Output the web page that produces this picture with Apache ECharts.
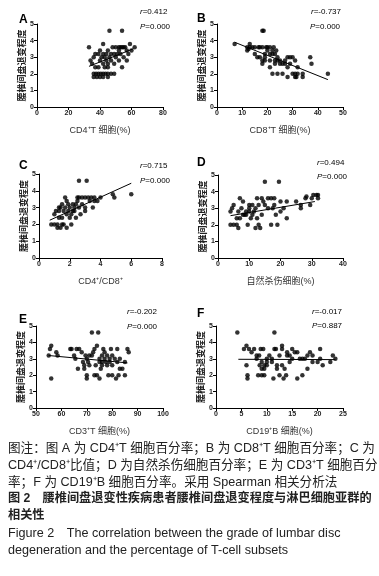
<!DOCTYPE html>
<html><head><meta charset="utf-8">
<script src="https://cdn.jsdelivr.net/npm/echarts@6/dist/echarts.min.js"></script>
<style>html,body{margin:0;padding:0;background:#fff}#c{width:379px;height:576px}</style>
</head><body><div id="c"></div>
<script>
// ---- Data ----
const yTickLabels = ['0','1','2','3','4','5'];
const xTicksA = [0,20,40,60,80];
const xTicksB = [0,10,20,30,40,50];
const xTicksC = [0,2,4,6,8];
const xTicksD = [0,10,20,30,40];
const xTicksE = [50,60,70,80,90,100];
const xTicksF = [0,5,10,15,20,25];

const pointsA = [[46,4.6],[54,4.6],[42,3.8],[59,3.8],[33,3.6],[48,3.6],[50,3.6],[52,3.6],[53,3.6],[54,3.6],[55,3.6],[56,3.6],[62,3.6],
[40,3.4],[45,3.4],[52,3.4],[57,3.4],[60,3.4],[37,3.2],[39,3.2],[42,3.2],[44,3.2],[47,3.2],[49,3.2],[51,3.2],[53,3.2],[58,3.2],
[36,3.0],[41,3.0],[43,3.0],[46,3.0],[50,3.0],[55,3.0],[34,2.8],[40,2.8],[44,2.8],[47,2.8],[52,2.8],[57,2.8],
[35,2.6],[42,2.6],[45,2.6],[49,2.6],[37,2.4],[39,2.4],[43,2.4],[45,2.4],[54,2.4],
[36,2.0],[37.5,2.0],[39,2.0],[40.5,2.0],[42,2.0],[43.5,2.0],[45,2.0],[47,2.0],[49,2.0],
[36,1.8],[38,1.8],[40,1.8],[42,1.8],[45,1.8]];
const fitA = [[33,2.45],[61,3.5]];

const pointsB = [[7,3.8],[12,3.4],[12,3.6],[12.5,3.5],[13,3.8],[13,3.6],[14,3.6],[15,3.6],[15,3.2],[16,3.0],[16.5,3.6],[17,3.6],[17,3.0],
[18,3.6],[18,4.6],[18.5,4.6],[18,2.8],[18,2.6],[19,3.2],[19,3.0],[19,2.8],[19.5,3.6],[20,3.6],[20,3.4],[21,3.6],[21,3.2],[21,2.8],[21,2.4],
[22,3.4],[22,3.2],[22,2.0],[22.5,3.6],[23,3.2],[23,2.8],[23,2.6],[23.5,3.4],[24,3.0],[24,2.8],[24,2.0],[25,2.8],[25,2.6],[26,2.6],[26,2.0],
[27,2.8],[27,2.6],[28,3.0],[28,2.4],[28,1.8],[29,3.0],[29,2.6],[30,3.0],[30,2.0],[31,2.8],[31,2.0],[31,1.8],[31.5,1.8],[32,2.4],[32,2.0],
[34,2.0],[34,1.8],[37,3.0],[37.5,2.6],[44,2.0]];
const fitB = [[7,3.9],[44,1.65]];

const pointsC = [[0.8,2.0],[1.0,2.6],[1.0,2.0],[1.1,2.8],[1.2,1.8],[1.2,2.0],[1.3,2.4],[1.3,2.8],[1.3,3.0],[1.4,3.0],[1.4,1.8],[1.5,2.0],[1.5,2.4],
[1.5,3.2],[1.6,2.8],[1.6,2.0],[1.7,3.6],[1.7,3.0],[1.8,1.8],[1.8,2.6],[1.8,3.4],[1.9,2.8],[1.9,3.2],[2.0,2.4],[2.0,3.0],[2.1,2.0],[2.1,2.6],
[2.2,3.2],[2.2,2.8],[2.3,3.0],[2.3,2.8],[2.4,2.4],[2.4,3.2],[2.5,3.6],[2.5,3.4],[2.6,4.6],[2.6,3.6],[2.6,3.0],[2.7,2.6],[2.8,3.2],[2.8,3.6],
[3.0,3.6],[3.0,3.0],[3.0,2.8],[3.1,4.6],[3.2,3.6],[3.3,3.4],[3.4,3.6],[3.5,3.0],[3.6,3.4],[3.6,3.6],[3.8,3.4],[4.0,3.6],[4.8,3.8],[4.9,3.6],[6.0,3.8]];
const fitC = [[0.7,2.25],[6.0,4.45]];

const pointsD = [[4,2.8],[4,2.0],[4.5,3.0],[5,3.2],[5,2.0],[6,2.0],[6,2.4],[6.5,1.8],[6.5,2.8],[7,3.6],[7,2.4],[7.5,3.0],[8,3.4],[8,2.6],[8.5,2.6],
[9,2.8],[9,2.6],[9.5,2.0],[10,3.0],[10,2.8],[10,3.2],[10.5,2.4],[11,3.2],[11,2.6],[11.5,2.8],[12,1.8],[12,3.0],[12.5,3.6],[12.5,2.4],[13,3.2],
[13,2.0],[13.5,1.8],[14,3.6],[14,2.6],[14.5,3.4],[15,4.6],[15,3.2],[16,3.6],[16,3.0],[17,3.6],[17,2.0],[17.5,3.0],[18,3.6],[18,3.2],[18.5,2.6],
[19,2.0],[19.5,4.6],[20,3.4],[20,2.8],[21,3.0],[22,2.4],[22,3.4],[25,3.4],[26.5,3.2],[26.5,3.0],[28,3.6],[28.3,3.7],[29.5,3.2],[30,3.6],[30.5,3.8],
[31.5,3.8],[32,3.6],[32,3.8]];
const fitD = [[4,2.55],[31,3.4]];

const pointsE = [[55,3.2],[55.5,3.6],[56,3.8],[56,1.8],[58,3.4],[58.5,3.2],[63.5,3.6],[64,3.6],[65,3.2],[65.5,3.0],[66,3.6],[66.5,2.4],[67,3.6],
[68,3.4],[68.5,2.8],[69,2.6],[69,2.4],[69.5,3.2],[70,3.0],[70,2.0],[70,1.8],[70.5,2.8],[71,2.6],[71,3.2],[72,4.6],[72,3.2],[72.5,3.4],[73,3.6],
[73,2.0],[73.5,2.6],[74,3.8],[74,2.0],[74.5,4.6],[75,3.0],[75,2.8],[75,1.8],[75.5,2.4],[76,3.2],[76,2.6],[76,2.8],[76.5,3.6],[77,3.4],[77,3.0],
[77.5,2.8],[78,3.2],[78,2.6],[78.5,2.0],[79,3.0],[79,2.8],[79.5,3.6],[80,3.2],[80,2.6],[80,2.0],[81,3.0],[81.5,1.8],[82,3.6],[82,2.8],[82.5,2.0],
[83,3.0],[83,2.4],[84,2.4],[85,2.0],[85,2.8],[86,3.6],[86.5,3.4]];
const fitE = [[55,3.2],[86,2.75]];

const pointsF = [[4.2,4.6],[5.5,3.6],[6,3.8],[6,2.6],[6.2,2.0],[6.2,1.8],[6.5,3.6],[7,3.4],[7.5,3.6],[8,3.2],[8,3.0],[8.3,2.0],[8.5,3.2],[8.6,2.6],
[8.8,3.6],[9,2.8],[9,2.4],[9,2.0],[9.3,3.6],[9.5,2.6],[9.5,2.4],[9.5,2.0],[10,3.0],[10,2.6],[10,2.8],[10.5,3.2],[11,2.8],[11,3.0],[11.3,1.8],
[11.5,4.6],[11.5,3.6],[11.8,3.6],[12,2.6],[12,2.4],[12.5,3.2],[12.5,2.0],[13,3.6],[13,3.8],[13,2.6],[13.3,1.8],[13.5,2.4],[13.8,2.0],[14,3.2],
[14,3.4],[14.5,2.8],[14.5,3.2],[15,3.6],[15,3.0],[15.5,3.4],[16,3.4],[16,1.8],[16.5,3.0],[17,2.0],[17,3.0],[17.5,3.0],[18,2.4],[18,3.2],[18.5,3.4],
[19,3.2],[19,2.8],[20,2.8],[20.5,3.6],[20.5,3.0],[21,2.6],[22.5,2.8],[23,3.2],[23.5,3.0]];
const fitF = [[4.4,2.97],[23.5,2.95]];

const panelLetters = ['A','B','C','D','E','F'];
const rValues = ['0.412','-0.737','0.715','0.494','-0.202','-0.017'];
const pValues = ['0.000','0.000','0.000','0.000','0.000','0.887'];
const xNames = ['CD4⁺T 细胞(%)','CD8⁺T 细胞(%)','CD4⁺/CD8⁺','自然杀伤细胞(%)','CD3⁺T 细胞(%)','CD19⁺B 细胞(%)'];
const yName = '腰椎间盘退变程度';

// ---- Layout ----
const grids = [
  {left:37, top:24, width:126, height:83},
  {left:217, top:24, width:126, height:83},
  {left:39, top:174, width:123, height:84},
  {left:218, top:175, width:125, height:83},
  {left:36, top:326, width:127, height:82},
  {left:216, top:326, width:127, height:82}
];
const xTicksAll = [xTicksA,xTicksB,xTicksC,xTicksD,xTicksE,xTicksF];
const pointsAll = [pointsA,pointsB,pointsC,pointsD,pointsE,pointsF];
const fitAll = [fitA,fitB,fitC,fitD,fitE,fitF];
const letterPos = [[19,21],[197,20],[19,167],[197,164],[19,321],[197,315]];
const rPos = [[140,13],[311,13],[140,167],[317,164],[127,313],[312,313]];
const pPos = [[140,28],[310,28],[140,182],[317,178],[127,328],[312,327]];

const axisCommon = {
  axisLine:{show:true,lineStyle:{color:'#000',width:1}},
  axisTick:{show:true,length:3,lineStyle:{color:'#000'}},
  splitLine:{show:false},
  axisLabel:{fontSize:7,fontWeight:'bold',color:'#222',fontFamily:'Arial, Liberation Sans',margin:3}
};

const option = {animation:false, grid:[], xAxis:[], yAxis:[], series:[], graphic:[]};
for (let i=0;i<6;i++){
  const t = xTicksAll[i];
  option.grid.push(grids[i]);
  option.xAxis.push(Object.assign({}, axisCommon, {
    gridIndex:i, type:'value', min:t[0], max:t[t.length-1], interval:t[1]-t[0],
    name:xNames[i], nameLocation:'middle', nameGap:19,
    nameTextStyle:{fontSize:9,color:'#333',fontFamily:'Arial, Noto Sans CJK SC'}
  }));
  option.yAxis.push(Object.assign({}, axisCommon, {
    gridIndex:i, type:'value', min:0, max:yTickLabels.length-1, interval:1,
    axisLabel:Object.assign({}, axisCommon.axisLabel, {formatter:(v)=>yTickLabels[v]}),
    name:yName, nameLocation:'middle', nameGap:11, nameRotate:90,
    nameTextStyle:{fontSize:9,fontWeight:'bold',color:'#222',fontFamily:'Noto Sans CJK SC'}
  }));
  option.series.push({type:'scatter', xAxisIndex:i, yAxisIndex:i, data:pointsAll[i],
    symbolSize:4.5, itemStyle:{color:'#000'}, silent:true});
  option.series.push({type:'line', xAxisIndex:i, yAxisIndex:i, data:fitAll[i],
    showSymbol:false, symbol:'none', lineStyle:{color:'#000',width:1}, silent:true});
  option.graphic.push({type:'text', left:letterPos[i][0], top:letterPos[i][1]-7,
    style:{text:panelLetters[i], font:'bold 12px Arial, Liberation Sans', fill:'#000'}});
  option.graphic.push({type:'text', left:rPos[i][0], top:rPos[i][1]-5,
    style:{text:'{i|r}='+rValues[i], font:'8px Arial, Liberation Sans', fill:'#000',
      rich:{i:{fontStyle:'italic',fontSize:8,fontFamily:'Arial, Liberation Sans'}}}});
  option.graphic.push({type:'text', left:pPos[i][0], top:pPos[i][1]-5,
    style:{text:'{i|P}='+pValues[i], font:'8px Arial, Liberation Sans', fill:'#000',
      rich:{i:{fontStyle:'italic',fontSize:8,fontFamily:'Arial, Liberation Sans'}}}});
}

// ---- Caption ----
const captionLines = [
  {t:'图注：图 A 为 CD4⁺T 细胞百分率；B 为 CD8⁺T 细胞百分率；C 为', y:450, b:false},
  {t:'CD4⁺/CD8⁺比值；D 为自然杀伤细胞百分率；E 为 CD3⁺T 细胞百分', y:467, b:false},
  {t:'率；F 为 CD19⁺B 细胞百分率。采用 Spearman 相关分析法', y:484, b:false},
  {t:'图 2　腰椎间盘退变性疾病患者腰椎间盘退变程度与淋巴细胞亚群的', y:501, b:true},
  {t:'相关性', y:518, b:true},
  {t:'Figure 2　The correlation between the grade of lumbar disc', y:535, b:false},
  {t:'degeneration and the percentage of T-cell subsets', y:552, b:false}
];
captionLines.forEach(l=>{
  option.graphic.push({type:'text', left:8, top:l.y-8,
    style:{text:l.t, font:(l.b?'bold 12.2px':'12.6px')+' Arial, "Noto Sans CJK SC"', fill:'#222'}});
});

const chart = echarts.init(document.getElementById('c'), null, {renderer:'canvas'});
chart.setOption(option);
</script></body></html>
